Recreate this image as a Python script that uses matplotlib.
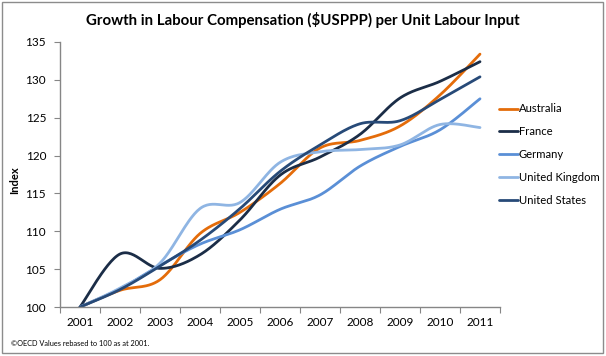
import numpy as np
import matplotlib
matplotlib.use("Agg")
import matplotlib.pyplot as plt
from matplotlib.patches import Rectangle

years = ["2001", "2002", "2003", "2004", "2005", "2006", "2007", "2008", "2009", "2010", "2011"]
australia = [100, 102.2, 103.6, 109.7, 112.5, 116.3, 121.0, 122.0, 123.9, 128.0, 133.4]
france = [100, 107.0, 105.1, 106.9, 111.5, 117.4, 119.8, 122.8, 127.6, 129.8, 132.4]
germany = [100, 102.4, 105.5, 108.3, 110.2, 112.9, 114.8, 118.6, 121.2, 123.4, 127.5]
uk = [100, 102.5, 105.8, 113.0, 113.8, 119.1, 120.5, 120.8, 121.4, 124.1, 123.7]
us = [100, 102.3, 105.4, 108.8, 113.0, 117.9, 121.4, 124.2, 124.6, 127.4, 130.4]
series_names = ["Australia", "France", "Germany", "United Kingdom", "United States"]
series_values = [australia, france, germany, uk, us]
colors = ["#E46C0A", "#1B2D47", "#5A8FD6", "#8FB5E3", "#274A78"]
y_ticks = [100, 105, 110, 115, 120, 125, 130, 135]

FONT = ["Lato", "DejaVu Sans"]
plt.rcParams['font.family'] = FONT


def smooth(xs, ys, n=30):
    # Catmull-Rom style smoothing like Excel's smoothed line
    xs = np.asarray(xs, float)
    ys = np.asarray(ys, float)
    px = np.concatenate([[xs[0]], xs, [xs[-1]]])
    py = np.concatenate([[ys[0]], ys, [ys[-1]]])
    ox, oy = [], []
    for i in range(1, len(px) - 2):
        p0 = np.array([px[i - 1], py[i - 1]])
        p1 = np.array([px[i], py[i]])
        p2 = np.array([px[i + 1], py[i + 1]])
        p3 = np.array([px[i + 2], py[i + 2]])
        c1 = p1 + (p2 - p0) / 6.0
        c2 = p2 - (p3 - p1) / 6.0
        t = np.linspace(0, 1, n)[:, None]
        pts = ((1 - t) ** 3) * p1 + 3 * ((1 - t) ** 2) * t * c1 + 3 * (1 - t) * t ** 2 * c2 + t ** 3 * p2
        ox.extend(pts[:, 0])
        oy.extend(pts[:, 1])
    return np.array(ox), np.array(oy)


W, H = 606, 356
fig = plt.figure(figsize=(W / 100, H / 100), dpi=100)
fig.patch.set_facecolor("white")
fig.patches.append(Rectangle((2 / W, 3 / H), 601 / W, 351 / H, transform=fig.transFigure,
                             fill=False, edgecolor="#8C8C8C", linewidth=1.0))

left, right, top, bottom = 60, 500, 42, 307
ax = fig.add_axes([left / W, 1 - bottom / H, (right - left) / W, (bottom - top) / H])

x = np.arange(len(years))
for name, vals, c in zip(series_names, series_values, colors):
    sx, sy = smooth(x, vals)
    ax.plot(sx, sy, color=c, lw=2.0, label=name, solid_capstyle="round")

ax.set_xlim(-0.5, len(years) - 0.5)
ax.set_ylim(100, 135)
ax.set_yticks(y_ticks)
ax.set_yticklabels([str(v) for v in y_ticks], fontsize=8.5)
ax.set_xticks(np.arange(-0.5, len(years), 1.0))
ax.set_xticklabels([])
ax.set_xticks(x, minor=True)
ax.set_xticklabels(years, minor=True, fontsize=8.5)
ax.tick_params(axis="x", which="minor", length=0, pad=7)
ax.tick_params(axis="x", which="major", length=4, color="#868686", direction="out")
ax.tick_params(axis="y", length=4, color="#868686", direction="out", pad=6)
for s in ["top", "right"]:
    ax.spines[s].set_visible(False)
for s in ["left", "bottom"]:
    ax.spines[s].set_color("#868686")
    ax.spines[s].set_linewidth(1.0)
ax.set_ylabel("Index", fontsize=8, fontweight="bold")
ax.yaxis.set_label_coords((20 - left) / (right - left), 0.48)

leg = ax.legend(loc="upper left", bbox_to_anchor=((494 - left) / (right - left), 1 - (99 - top) / (bottom - top)),
                frameon=False, fontsize=8.1, handlelength=1.7, handletextpad=0.08, labelspacing=1.05,
                borderaxespad=0)

fig.text(0.5, 1 - 20 / H, "Growth in Labour Compensation ($USPPP) per Unit Labour Input",
         ha="center", va="center", fontsize=10.8, fontweight="bold")
fig.text(11 / W, 1 - 343 / H, "©OECD Values rebased to 100 as at 2001.", ha="left", va="center",
         fontsize=5.3)

fig.savefig("out.png", dpi=100, facecolor="white")
